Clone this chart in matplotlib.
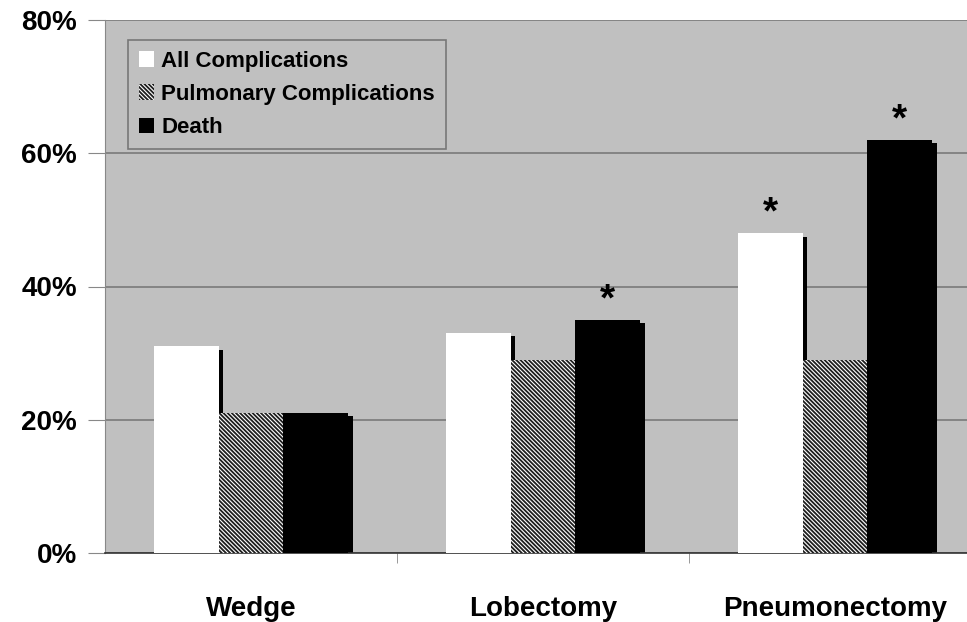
import matplotlib.pyplot as plt
import matplotlib.patches as mpatches
import numpy as np

plt.rcParams['font.family'] = ['Liberation Sans', 'DejaVu Sans']
plt.rcParams['hatch.linewidth'] = 0.8
plt.rcParams['hatch.color'] = 'white'

# data (percent)
categories = ['Wedge', 'Lobectomy', 'Pneumonectomy']
series_names = ['All Complications', 'Pulmonary Complications', 'Death']
all_comp = [31, 33, 48]
pulm_comp = [21, 29, 29]
death = [21, 35, 62]
# asterisks: (category index, series index)
significant = [(1, 2), (2, 0), (2, 2)]

values = [all_comp, pulm_comp, death]

fig = plt.figure(figsize=(9.67, 6.22), dpi=100)
ax = fig.add_axes([105 / 967, 1 - 553 / 622, 876 / 967, 533 / 622])
ax.set_facecolor('#c0c0c0')

x = np.arange(len(categories))
w = 0.222
offsets = [-w, 0, w]
pulm_hatch = '\\\\\\\\\\\\\\\\'
styles = [
    dict(color='white', edgecolor='none'),
    dict(color='#1e1e1e', edgecolor='white', hatch=pulm_hatch, linewidth=0),
    dict(color='black', edgecolor='none'),
]

# shadows
sh_dx = 0.016
sh_dy = 0.5
for vals, off in zip(values, offsets):
    ax.bar(x + off + sh_dx, np.array(vals) - sh_dy, w, color='black', zorder=2)

for vals, off, st in zip(values, offsets, styles):
    ax.bar(x + off, vals, w, zorder=3, **st)

for ci, si in significant:
    ax.text(x[ci] + offsets[si], values[si][ci] + 0.2, '*', ha='center', va='bottom',
            fontsize=28, fontweight='bold', zorder=5)

ax.set_xlim(-0.5, 2.5)
ax.set_ylim(0, 80)
ax.set_yticks([0, 20, 40, 60, 80])
ax.set_yticklabels(['0%', '20%', '40%', '60%', '80%'], fontsize=20, fontweight='bold')
ax.yaxis.grid(True, color='#7a7a7a', linewidth=1.2, zorder=1)
ax.set_axisbelow(True)

ax.set_xticks(x)
ax.set_xticklabels(categories, fontsize=20, fontweight='bold')
ax.tick_params(axis='x', which='major', length=0, pad=31)
ax.set_xticks([0.5, 1.5], minor=True)
ax.tick_params(axis='x', which='minor', length=7, color='#888888', direction='out')
ax.tick_params(axis='y', length=12, color='#888888', direction='out', pad=8)

for s in ['top', 'right']:
    ax.spines[s].set_visible(False)
ax.spines['left'].set_color('#888888')
ax.spines['bottom'].set_color('#333333')
ax.spines['bottom'].set_linewidth(1.2)

handles = [
    mpatches.Patch(facecolor='white', edgecolor='none', label=series_names[0]),
    mpatches.Patch(facecolor='#1e1e1e', edgecolor='white', hatch=pulm_hatch, linewidth=0, label=series_names[1]),
    mpatches.Patch(facecolor='black', edgecolor='none', label=series_names[2]),
]
leg = ax.legend(handles=handles, loc='upper left', bbox_to_anchor=(0.026, 0.963),
                fancybox=False, framealpha=1, facecolor='#c0c0c0', edgecolor='#777777',
                prop={'size': 16, 'weight': 'bold'}, handlelength=0.7, handleheight=0.7,
                handletextpad=0.3, borderpad=0.5, labelspacing=0.55, borderaxespad=0)
leg.get_frame().set_linewidth(1.2)
leg.set_zorder(6)

fig.savefig('out.png', dpi=100)
